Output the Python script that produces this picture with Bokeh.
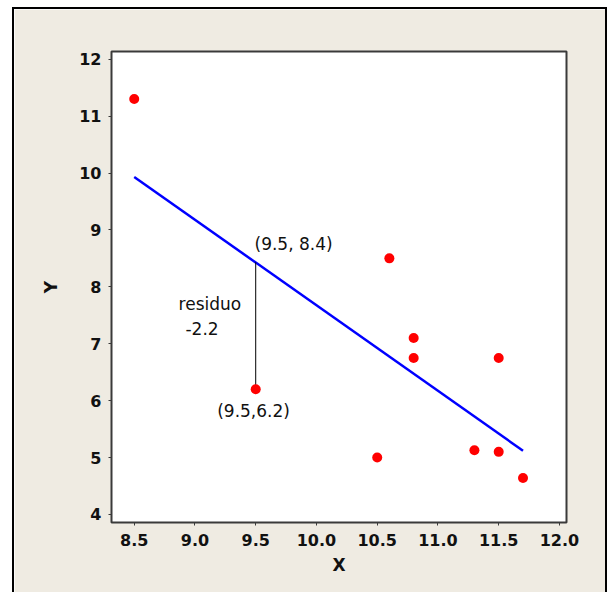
from bokeh.plotting import figure
from bokeh.models import Range1d, FixedTicker, Label, NumeralTickFormatter
from bokeh.embed import file_html
from bokeh.resources import INLINE

# data
x_vals = [8.5, 9.5, 10.5, 10.6, 10.8, 10.8, 11.3, 11.5, 11.5, 11.7]
y_vals = [11.3, 6.2, 5.0, 8.5, 7.1, 6.75, 5.13, 5.1, 6.75, 4.64]
fit_x = [8.5, 11.7]
fit_y = [9.93, 5.12]
resid_x = [9.5, 9.5]
resid_y = [8.43, 6.2]
x_ticks = [8.5, 9.0, 9.5, 10.0, 10.5, 11.0, 11.5, 12.0]
y_ticks = [4, 5, 6, 7, 8, 9, 10, 11, 12]

FONT = "DejaVu Sans"
BG = "#EFEBE2"

p = figure(
    width=591, height=583,
    x_range=Range1d(8.313, 12.058), y_range=Range1d(3.859, 12.135),
    output_backend="svg", toolbar_location=None,
    min_border_left=97, min_border_right=39,
    min_border_top=42, min_border_bottom=70,
    x_axis_label="X", y_axis_label="Y",
)
p.margin = (9, 0, 0, 14)
p.styles = {"outline": "2px solid #000000"}

p.background_fill_color = "white"
p.border_fill_color = BG
p.outline_line_color = "#3a3a3a"
p.outline_line_width = 2
p.xgrid.visible = False
p.ygrid.visible = False

for ax in (p.xaxis[0], p.yaxis[0]):
    ax.axis_line_color = None
    ax.major_tick_in = 0
    ax.major_tick_out = 3
    ax.major_tick_line_color = "#3a3a3a"
    ax.minor_tick_line_color = None
    ax.major_label_text_font = FONT
    ax.major_label_text_font_style = "bold"
    ax.major_label_text_font_size = "16px"
    ax.major_label_text_color = "#111111"
    ax.axis_label_text_font = FONT
    ax.axis_label_text_font_style = "bold"
    ax.axis_label_text_font_size = "17px"
    ax.axis_label_text_color = "#111111"

p.xaxis.ticker = FixedTicker(ticks=x_ticks)
p.xaxis.formatter = NumeralTickFormatter(format="0.0")
p.xaxis.major_label_standoff = 8
p.xaxis.axis_label_standoff = 6
p.yaxis.ticker = FixedTicker(ticks=y_ticks)
p.yaxis.major_label_standoff = 7
p.yaxis.axis_label_standoff = 15

p.line(fit_x, fit_y, line_color="#0000FF", line_width=2.5)
p.line(resid_x, resid_y, line_color="black", line_width=1)
p.scatter(x_vals, y_vals, size=10, fill_color="#FF0000", line_color=None)

def note(x, y, t):
    p.add_layout(Label(x=x, y=y, text=t, text_font=FONT, text_font_size="17px",
                       text_color="#111111", text_baseline="middle", text_align="left"))

note(9.49, 8.76, "(9.5, 8.4)")
note(8.865, 7.707, "residuo")
note(8.922, 7.267, "-2.2")
note(9.183, 5.826, "(9.5,6.2)")

open("out.html", "w").write(file_html(p, INLINE))
